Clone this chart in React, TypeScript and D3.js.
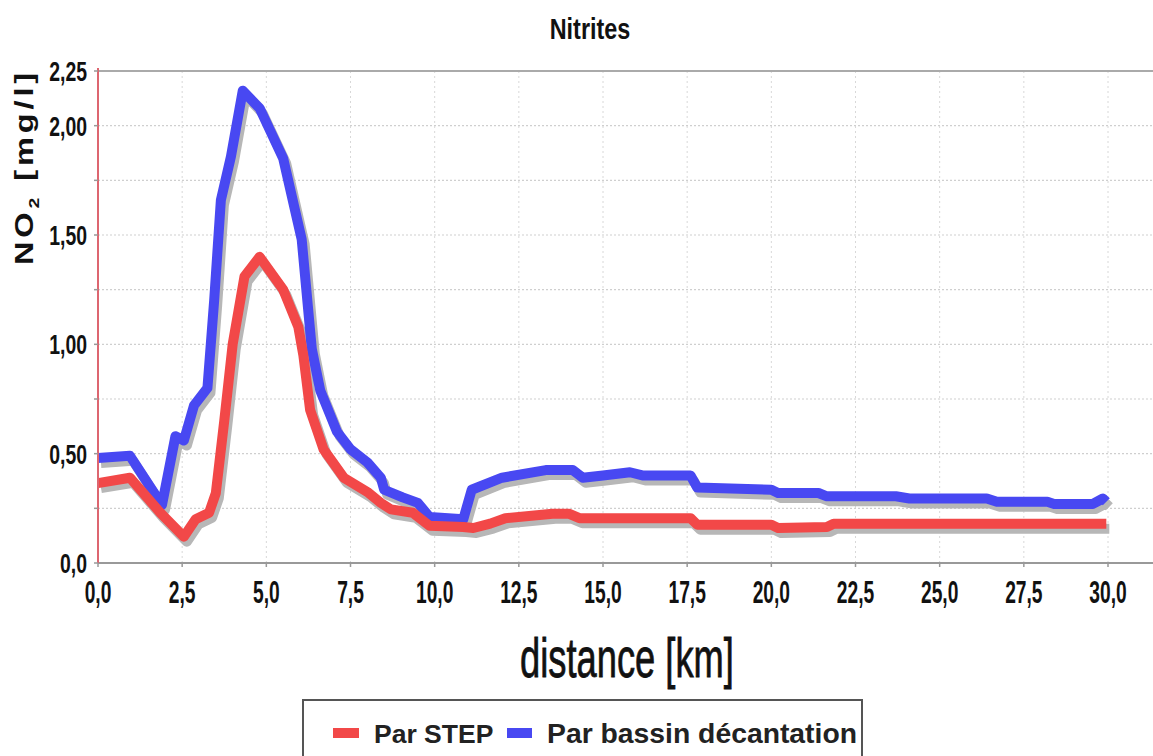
import React from "react";
import * as d3 from "d3";

const xTicks = [0, 2.5, 5, 7.5, 10, 12.5, 15, 17.5, 20, 22.5, 25, 27.5, 30];
const xTickLabels = ["0,0", "2,5", "5,0", "7,5", "10,0", "12,5", "15,0", "17,5", "20,0", "22,5", "25,0", "27,5", "30,0"];
const yGrid = [0, 0.25, 0.5, 0.75, 1, 1.25, 1.5, 1.75, 2, 2.25];
const yLabelVals = [0, 0.5, 1, 1.5, 2, 2.25];
const yLabelTexts = ["0,0", "0,50", "1,00", "1,50", "2,00", "2,25"];

const stepKm = [0, 0.95, 1.85, 2.55, 2.9, 3.3, 3.5, 3.75, 4.0, 4.35, 4.8, 5.5, 5.95, 6.1, 6.3, 6.7, 7.3, 8.0, 8.4, 8.7, 9.35, 9.85, 10.85, 11.15, 11.65, 12.1, 13.5, 14.0, 14.3, 17.6, 17.8, 20.0, 20.2, 21.65, 21.85, 29.95];
const stepVal = [0.365, 0.39, 0.23, 0.12, 0.2, 0.23, 0.32, 0.65, 1.0, 1.31, 1.4, 1.25, 1.08, 0.95, 0.7, 0.52, 0.39, 0.325, 0.275, 0.245, 0.23, 0.17, 0.165, 0.16, 0.18, 0.205, 0.225, 0.225, 0.205, 0.205, 0.175, 0.175, 0.16, 0.165, 0.18, 0.18];

const bassinKm = [0, 0.95, 1.9, 2.3, 2.55, 2.85, 3.25, 3.45, 3.65, 3.95, 4.3, 4.8, 5.5, 6.05, 6.35, 6.6, 7.1, 7.5, 8.0, 8.4, 8.5, 9.05, 9.5, 9.85, 10.85, 11.1, 12.0, 13.3, 14.1, 14.4, 15.0, 15.8, 16.2, 17.6, 17.8, 20.0, 20.2, 21.4, 21.65, 23.7, 24.1, 26.4, 26.7, 28.2, 28.4, 29.55, 29.85, 29.95];
const bassinVal = [0.48, 0.49, 0.265, 0.58, 0.56, 0.72, 0.8, 1.2, 1.66, 1.86, 2.16, 2.08, 1.85, 1.48, 0.98, 0.79, 0.6, 0.52, 0.46, 0.39, 0.335, 0.3, 0.275, 0.21, 0.2, 0.335, 0.39, 0.425, 0.425, 0.39, 0.4, 0.415, 0.4, 0.4, 0.345, 0.335, 0.32, 0.32, 0.305, 0.305, 0.295, 0.295, 0.28, 0.28, 0.27, 0.27, 0.295, 0.28];

const seriesNames = ["Par STEP", "Par bassin décantation"];

const W = 1153, H = 756;
const left = 98, right = 1108, top = 71, bottom = 563;
const sans = '"Liberation Sans", Arial, sans-serif';

export default function App() {
  const x = d3.scaleLinear().domain([0, 30]).range([left, right]);
  const y = d3.scaleLinear().domain([0, 2.25]).range([bottom, top]);
  const line = d3.line<[number, number]>().x(d => x(d[0])).y(d => y(d[1]));
  const stepPts: [number, number][] = stepKm.map((k, i) => [k, stepVal[i]]);
  const bassinPts: [number, number][] = bassinKm.map((k, i) => [k, bassinVal[i]]);
  const red = "#f24848", blue = "#4848f2", shadow = "#b7b7b7";
  return (
    <svg width={W} height={H} style={{ position: "absolute", left: 0, top: 0, background: "#fff" }}>
      <rect x={0} y={0} width={W} height={H} fill="#fff" />
      <text transform="translate(590,39) scale(0.78,1)" textAnchor="middle" fontFamily={sans} fontWeight="bold" fontSize={30} fill="#111">Nitrites</text>
      {yGrid.slice(1, -1).map(v => (
        <line key={"gy" + v} x1={left} x2={W} y1={y(v)} y2={y(v)} stroke="#cfcfcf" strokeDasharray="2,2" strokeWidth={1.2} />
      ))}
      {xTicks.slice(1).map(v => (
        <line key={"gx" + v} x1={x(v)} x2={x(v)} y1={top} y2={bottom} stroke="#d8d8d8" strokeDasharray="2,3" strokeWidth={1} />
      ))}
      <line x1={left} x2={W} y1={top} y2={top} stroke="#aaa" strokeWidth={2} />
      <path d={line(bassinPts) || ""} transform="translate(3,5)" fill="none" stroke={shadow} strokeWidth={10} strokeLinejoin="round" />
      <path d={line(stepPts) || ""} transform="translate(3,5)" fill="none" stroke={shadow} strokeWidth={10} strokeLinejoin="round" />
      <path d={line(bassinPts) || ""} fill="none" stroke={blue} strokeWidth={10} strokeLinejoin="round" />
      <path d={line(stepPts) || ""} fill="none" stroke={red} strokeWidth={10} strokeLinejoin="round" />
      <line x1={left} x2={W} y1={bottom} y2={bottom} stroke="#999" strokeWidth={2} />
      <line x1={left} x2={left} y1={top - 3} y2={bottom} stroke="#dd6670" strokeWidth={2} />
      {yGrid.map(v => (
        <line key={"ty" + v} x1={left - 4} x2={left} y1={y(v)} y2={y(v)} stroke="#999" strokeWidth={1.5} />
      ))}
      {xTicks.map(v => (
        <line key={"tx" + v} x1={x(v)} x2={x(v)} y1={bottom} y2={bottom + 4} stroke="#999" strokeWidth={1.5} />
      ))}
      {yLabelVals.map((v, i) => (
        <text key={"ly" + v} transform={`translate(87,${y(v) + 10}) scale(0.72,1)`} textAnchor="end" fontFamily={sans} fontWeight="bold" fontSize={27} fill="#111">{yLabelTexts[i]}</text>
      ))}
      {xTicks.map((v, i) => (
        <text key={"lx" + v} transform={`translate(${x(v)},603) scale(0.62,1)`} textAnchor="middle" fontFamily={sans} fontWeight="bold" fontSize={31} fill="#111">{xTickLabels[i]}</text>
      ))}
      <text transform="translate(33,167) rotate(-90) scale(1.3,1)" textAnchor="middle" fontFamily={sans} fontWeight="bold" fontSize={25} letterSpacing={3} fill="#111">
        NO<tspan fontSize={15} dy={6}>2</tspan><tspan dy={-6}> [mg/l]</tspan>
      </text>
      <text transform="translate(627,677) scale(0.66,1)" textAnchor="middle" fontFamily={sans} fontSize={55} stroke="#111" strokeWidth={0.8} fill="#111">distance [km]</text>
      <rect x={303} y={700} width={559} height={70} fill="#fff" stroke="#555" strokeWidth={2} />
      <rect x={333} y={728} width={26} height={10} fill={red} />
      <text x={374} y={743} fontFamily={sans} fontWeight="bold" fontSize={26.5} fill="#222">{seriesNames[0]}</text>
      <rect x={507} y={728} width={25} height={10} fill={blue} />
      <text transform="translate(547,743) scale(1.03,1)" fontFamily={sans} fontWeight="bold" fontSize={27.5} fill="#222">{seriesNames[1]}</text>
    </svg>
  );
}
